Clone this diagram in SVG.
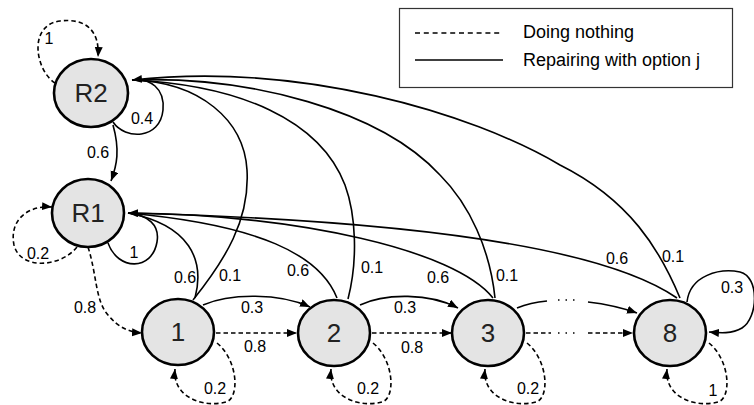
<svg xmlns="http://www.w3.org/2000/svg" width="754" height="405" viewBox="0 0 754 405">
<style>
.node{fill:#e4e4e4;stroke:#000;stroke-width:2.6}
.nl{font-family:"Liberation Sans",Arial,sans-serif;font-size:26px;text-anchor:middle;fill:#222}
.el{font-family:"Liberation Sans",Arial,sans-serif;font-size:16px;text-anchor:middle;fill:#000}
.lt{font-family:"Liberation Sans",Arial,sans-serif;font-size:18px;fill:#000}
.s{fill:none;stroke:#000;stroke-width:1.6}
.d{fill:none;stroke:#000;stroke-width:1.6;stroke-dasharray:4.5 3}
.dot{fill:none;stroke:#000;stroke-width:1.6;stroke-dasharray:1.5 6}
</style>
<defs>
<marker id="ah" markerWidth="11" markerHeight="9" refX="10" refY="4" orient="auto" markerUnits="userSpaceOnUse">
<path d="M0,0 L10,4 L0,8 z" fill="#000"/>
</marker>
</defs>
<rect width="754" height="405" fill="#fff"/>
<g id="legend">
<rect x="399.5" y="8.5" width="333" height="79" fill="#fff" stroke="#333" stroke-width="1.2"/>
<line x1="415" y1="33" x2="503" y2="33" class="d" style="stroke-dasharray:5 3.8"/>
<line x1="415" y1="60" x2="503" y2="60" class="s"/>
<text x="523" y="38" class="lt">Doing nothing</text>
<text x="523" y="66" class="lt">Repairing with option j</text>
</g>
<g id="connectors">
<path class="d" d="M55,83 C35,70 28,25 60,21 C85,18 100,30 98,57" marker-end="url(#ah)"/>
<path class="s" d="M113,122 C125,140 160,140 163,110 C165,88 150,78 132,80"/>
<path class="s" d="M113,125 C120,150 117,165 111,181" marker-end="url(#ah)"/>
<path class="s" d="M193,300 C225,260 250,220 247,170 C244,120 200,82 132,80"/>
<path class="s" d="M348,299 C358,260 356,215 345,185 C320,120 240,85 132,80"/>
<path class="s" d="M495,298 C490,250 470,205 440,175 C380,110 250,76 132,80"/>
<path class="s" d="M680,298 C660,250 630,200 560,165 C470,112 300,62 132,80" marker-end="url(#ah)"/>
<path class="d" d="M77,247 C60,268 20,270 14,245 C9,220 28,205 52,207" marker-end="url(#ah)"/>
<path class="s" d="M108,243 C118,271 152,271 157,242 C160,225 148,215 128,213"/>
<path class="d" d="M88,247 C97,275 95,300 108,315 C118,327 128,332 142,333" marker-end="url(#ah)"/>
<path class="s" d="M195,298 C205,260 190,225 128,213"/>
<path class="s" d="M337,298 C320,255 260,225 128,213"/>
<path class="s" d="M493,298 C455,250 300,215 128,213"/>
<path class="s" d="M677,298 C600,245 400,220 128,213" marker-end="url(#ah)"/>
<path class="s" d="M203,305 C230,293 280,293 310,307" marker-end="url(#ah)"/>
<path class="d" d="M216,333 L297,333" marker-end="url(#ah)"/>
<path class="d" d="M217,343 C238,360 240,398 226,402 C205,408 172,398 175,369" marker-end="url(#ah)"/>
<path class="s" d="M360,305 C385,293 430,293 458,308" marker-end="url(#ah)"/>
<path class="d" d="M372,333 L452,333" marker-end="url(#ah)"/>
<path class="d" d="M373,343 C394,360 396,398 382,402 C361,408 328,398 331,369" marker-end="url(#ah)"/>
<path class="s" d="M517,308 C527,304 537,302 547,301"/>
<path class="dot" d="M558,300 L580,300"/>
<path class="s" d="M588,302 C605,304 620,307 637,313" marker-end="url(#ah)"/>
<path class="d" d="M526,333 L551,333"/>
<path class="dot" d="M558,333 L580,333"/>
<path class="d" d="M588,333 L633,333" marker-end="url(#ah)"/>
<path class="d" d="M527,343 C548,360 550,398 536,402 C515,408 482,398 485,369" marker-end="url(#ah)"/>
<path class="s" d="M687,302 C690,275 720,268 740,272 C760,277 758,318 742,328 C732,334 720,333 709,332" marker-end="url(#ah)"/>
<path class="d" d="M709,343 C730,360 732,398 718,402 C697,408 664,398 667,369" marker-end="url(#ah)"/>
</g>
<g id="labels">
<text x="49" y="44" class="el">1</text>
<text x="142" y="124" class="el">0.4</text>
<text x="98" y="158" class="el">0.6</text>
<text x="38" y="259" class="el">0.2</text>
<text x="134" y="258" class="el">1</text>
<text x="85" y="313" class="el">0.8</text>
<text x="185" y="283" class="el">0.6</text>
<text x="230" y="281" class="el">0.1</text>
<text x="298" y="276" class="el">0.6</text>
<text x="372" y="273" class="el">0.1</text>
<text x="438" y="283" class="el">0.6</text>
<text x="507" y="281" class="el">0.1</text>
<text x="617" y="264" class="el">0.6</text>
<text x="673" y="262" class="el">0.1</text>
<text x="732" y="293" class="el">0.3</text>
<text x="252" y="313" class="el">0.3</text>
<text x="255" y="352" class="el">0.8</text>
<text x="215" y="394" class="el">0.2</text>
<text x="405" y="313" class="el">0.3</text>
<text x="412" y="353" class="el">0.8</text>
<text x="368" y="394" class="el">0.2</text>
<text x="528" y="394" class="el">0.2</text>
<text x="713" y="396" class="el">1</text>
</g>
<g id="node-R2"><ellipse class="node" cx="91" cy="93" rx="37" ry="34"/><text x="91" y="102" class="nl">R2</text></g>
<g id="node-R1"><ellipse class="node" cx="88" cy="213" rx="36" ry="34"/><text x="88" y="222" class="nl">R1</text></g>
<g id="node-1"><ellipse class="node" cx="178" cy="332" rx="36" ry="33"/><text x="178" y="341" class="nl">1</text></g>
<g id="node-2"><ellipse class="node" cx="334" cy="333" rx="36" ry="33"/><text x="334" y="342" class="nl">2</text></g>
<g id="node-3"><ellipse class="node" cx="488" cy="333" rx="36" ry="33"/><text x="488" y="342" class="nl">3</text></g>
<g id="node-8"><ellipse class="node" cx="670" cy="333" rx="36" ry="33"/><text x="670" y="342" class="nl">8</text></g>
</svg>
